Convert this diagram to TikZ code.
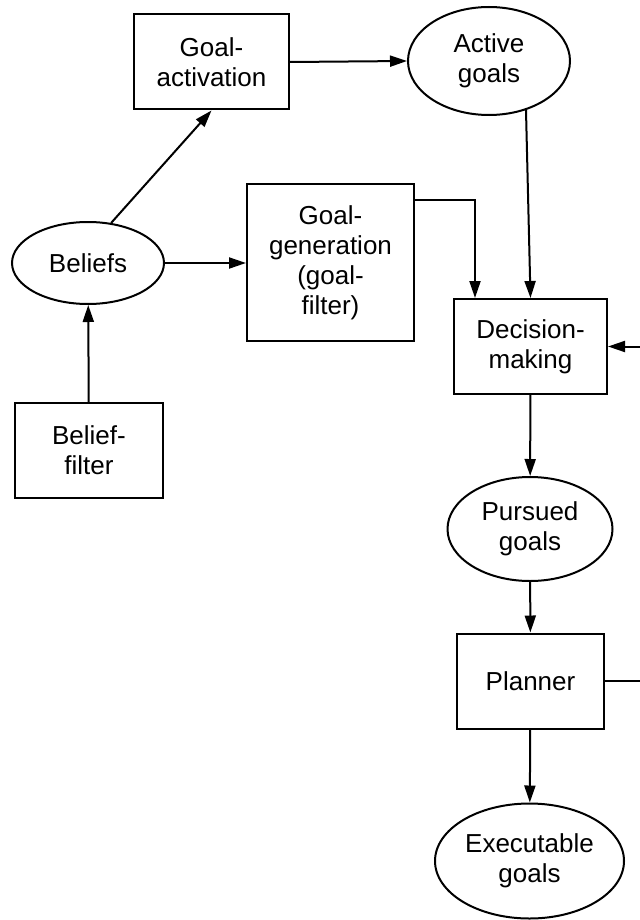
\documentclass[tikz,border=0pt]{standalone}
\usepackage{fontspec}
\setmainfont{Liberation Sans}
\usetikzlibrary{arrows.meta}
\usetikzlibrary{shapes.geometric}
\tikzset{
  proc/.style={
    rectangle, draw=black, line width=1pt, fill=white,
    align=center, font=\fontsize{13}{15}\selectfont, inner sep=2pt
  },
  state/.style={
    ellipse, draw=black, line width=1pt, fill=white,
    align=center, font=\fontsize{13}{15}\selectfont, inner sep=1pt
  },
  link/.style={-{Triangle[length=8.5pt, width=5.5pt]}, line width=1pt, draw=black}
}

\begin{document}
\begin{tikzpicture}[x=0.5pt, y=-0.5pt]
  \useasboundingbox (0,0) rectangle (639,920);

  \node[proc, minimum width=77.5pt, minimum height=47.5pt] (goalact) at (211.5,62) {Goal-\\activation};
  \node[state, minimum width=81pt, minimum height=54pt] (active) at (489,61) {Active\\goals};
  \node[state, minimum width=76pt, minimum height=41pt] (beliefs) at (88,263) {Beliefs};
  \node[proc, minimum width=83.5pt, minimum height=78.5pt] (goalgen) at (330.5,262.5) {Goal-\\generation\\(goal-\\filter)};
  \node[proc, minimum width=74pt, minimum height=47.5pt] (beliefflt) at (89,450.5) {Belief-\\filter};
  \node[proc, minimum width=76.5pt, minimum height=47.5pt] (decision) at (530.5,346.5) {Decision-\\making};
  \node[state, minimum width=82.5pt, minimum height=52pt] (pursued) at (530,529) {Pursued\\goals};
  \node[proc, minimum width=73.5pt, minimum height=47.5pt] (planner) at (530.5,681) {Planner};
  \node[state, minimum width=94.5pt, minimum height=57.5pt] (execgoals) at (529.5,861) {Executable\\goals};

  % feedback from the planner, leaving the picture on the right
  \coordinate (fbOut) at (641,681);
  \coordinate (fbIn) at (641,346.5);

  \draw[link] (beliefflt) -- (beliefs);
  \draw[link] (beliefs.60) -- (goalact.south);
  \draw[link] (beliefs.east) -- (goalgen.west |- beliefs.east);
  \draw[link] (goalact.east) -- (active.west);
  \draw[link] ([yshift=-8.5pt]goalgen.north east) -| ([xshift=11pt]decision.north west);
  \draw[link] (active.-53) -- (decision.north);
  \draw[link] (decision) -- (pursued);
  \draw[link] (pursued) -- (planner);
  \draw[link] (planner) -- (execgoals);
  \draw[line width=1pt] (planner.east) -- (fbOut);
  \draw[link] (fbIn) -- (decision.east);
\end{tikzpicture}
\end{document}
